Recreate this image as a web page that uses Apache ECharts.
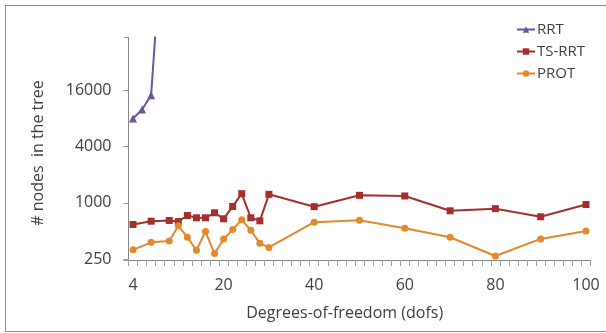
<!DOCTYPE html>
<html>
<head>
<meta charset="utf-8">
<script src="https://cdn.jsdelivr.net/npm/echarts@6/dist/echarts.min.js"></script>
<style>
html,body{margin:0;padding:0;background:#fff;overflow:hidden;}
#wrap{position:relative;width:606px;height:333px;overflow:hidden;background:#fff;}
#c{position:absolute;left:0;top:0;width:606px;height:333px;}
#frame{position:absolute;left:5px;top:5px;width:640px;height:327px;box-sizing:border-box;border:1px solid #8e8e8e;pointer-events:none;}
.ttl{position:absolute;font-family:'Open Sans';font-size:16px;line-height:20px;color:#404040;white-space:pre;pointer-events:none;}
#xt{left:344.7px;top:311.7px;transform:translate(-50%,-50%);}
#yt{left:36.5px;top:153px;transform:translate(-50%,-50%) rotate(-90deg);}
</style>
</head>
<body>
<div id="wrap">
  <div id="c"></div>
  <div id="frame"></div>
  <div class="ttl" id="xt"></div>
  <div class="ttl" id="yt"></div>
</div>
<script>
// x categories (degrees of freedom), evenly spaced as in the original
const categories = ['4','5','6','7','8','10','12','14','16','18','20','22','24','26','28','30','32','34','36','38','40','42','44','46','48','50','52','54','56','58','60','62','64','66','68','70','72','74','76','78','80','82','84','86','88','90','92','94','96','98','100'];
const yTicks = [250, 1000, 4000, 16000];
const xTitle = 'Degrees-of-freedom (dofs)';
const yTitle = '# nodes  in the tree';

const rrtDofs = ['4','5','6','7'];
const rrtNodes = [8170, 10200, 14500, 380000];

const dofs = ['4','6','8','10','12','14','16','18','20','22','24','26','28','30','40','50','60','70','80','90','100'];
const tsrrtNodes = [600, 650, 662, 645, 748, 707, 707, 800, 690, 935, 1280, 707, 656, 1260, 930, 1230, 1210, 840, 885, 725, 980];
const protNodes = [321, 386, 400, 580, 438, 318, 504, 293, 420, 529, 673, 520, 377, 341, 634, 666, 546, 438, 276, 420, 511];

document.getElementById('xt').textContent = xTitle;
document.getElementById('yt').textContent = yTitle;

const FONT = 'Open Sans';
const TXT = '#404040';
const AX = '#868686';

function pairs(xs, ys){ return xs.map((x,i)=>[x, ys[i]]); }
function yLabel(v){
  for (const t of yTicks) {
    if (Math.abs(Math.log(v / t)) < 0.05) return String(t);
  }
  return '';
}

const chart = echarts.init(document.getElementById('c'));
chart.setOption({
  animation: false,
  grid: [
    {left: 128.5, right: 15.5, top: 37.5, bottom: 73},
    // thin strip under the x axis: its split lines act as the x tick marks
    {left: 128.5, right: 15.5, top: 260, height: 6},
    // thin strip left of the y axis: its split lines act as the y tick marks
    {left: 123.5, width: 5, top: 37.5, bottom: 73}
  ],
  legend: {
    orient: 'vertical', left: 511, top: 17,
    itemWidth: 18, itemHeight: 8, itemGap: 7,
    textStyle: {fontFamily: FONT, fontSize: 15, color: TXT, padding: [0,0,0,-3]},
    data: ['RRT','TS-RRT','PROT']
  },
  xAxis: [
    {
      type: 'category', gridIndex: 0,
      data: categories,
      axisLine: {show: true, lineStyle: {color: AX, width: 1}},
      axisTick: {show: true, interval: 0, length: 6, lineStyle: {color: '#a0a0a0', width: 1}},
      axisLabel: {interval: 9, margin: 17, fontFamily: FONT, fontSize: 16, color: TXT}
    },
    {
      type: 'category', gridIndex: 1,
      data: categories,
      axisLine: {show: false}, axisTick: {show: false}, axisLabel: {show: false},
      splitLine: {show: true, interval: 0, lineStyle: {color: '#a8a8a8', width: 1}}
    },
    {
      type: 'value', gridIndex: 2, show: false,
      axisLine: {show: false}, axisTick: {show: false}, axisLabel: {show: false}, splitLine: {show: false}
    }
  ],
  yAxis: [
    {
      type: 'log', gridIndex: 0,
      logBase: 4,
      min: 250,
      max: 60000,
      axisLine: {show: true, lineStyle: {color: AX, width: 1}},
      axisTick: {show: true, length: 5, lineStyle: {color: '#9a9a9a', width: 1}},
      axisLabel: {margin: 17, fontFamily: FONT, fontSize: 16, color: TXT,
        showMinLabel: false, showMaxLabel: false, formatter: yLabel},
      splitLine: {show: false}
    },
    {
      type: 'value', gridIndex: 1, show: false,
      axisLine: {show: false}, axisTick: {show: false}, axisLabel: {show: false}, splitLine: {show: false}
    },
    {
      type: 'log', gridIndex: 2,
      logBase: 4, min: 250, max: 60000,
      axisLine: {show: false}, axisTick: {show: false}, axisLabel: {show: false},
      splitLine: {show: true, lineStyle: {color: '#9a9a9a', width: 1}}
    }
  ],
  series: [
    {
      name: 'RRT', type: 'line', data: pairs(rrtDofs, rrtNodes),
      symbol: 'triangle', symbolSize: 8, clip: true, showAllSymbol: true,
      lineStyle: {color: '#6F559C', width: 2},
      itemStyle: {color: '#6F559C'}
    },
    {
      name: 'TS-RRT', type: 'line', data: pairs(dofs, tsrrtNodes),
      symbol: 'rect', symbolSize: 7, showAllSymbol: true,
      lineStyle: {color: '#A52F2B', width: 2},
      itemStyle: {color: '#A52F2B'}
    },
    {
      name: 'PROT', type: 'line', data: pairs(dofs, protNodes),
      symbol: 'circle', symbolSize: 7, showAllSymbol: true,
      lineStyle: {color: '#E2892E', width: 2},
      itemStyle: {color: '#E2892E'}
    }
  ]
});
</script>
</body>
</html>
